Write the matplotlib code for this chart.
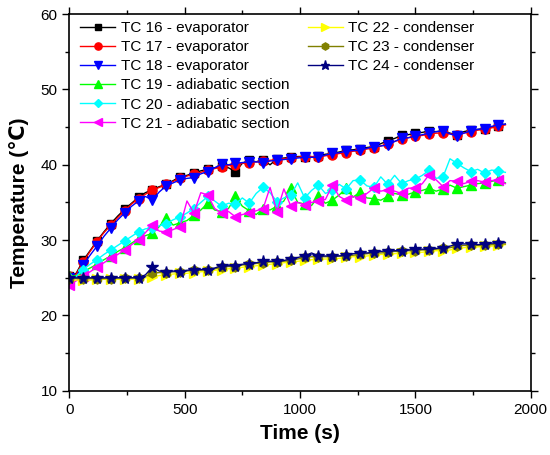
import matplotlib
matplotlib.use("Agg")
import matplotlib.pyplot as plt
from matplotlib.ticker import MultipleLocator

plt.rcParams['font.family'] = ['Liberation Sans', 'DejaVu Sans']

# time axis, one reading every 30 s
time_s = list(range(0, 1891, 30))

# evaporator
tc16 = [25.3, 25.6, 27.3, 28.6, 29.9, 31.1, 32.2, 33.2, 34.1, 34.9,
        35.7, 36.3, 36.7, 37.1, 37.4, 37.9, 38.4, 38.6, 38.9, 39.2,
        39.4, 39.6, 39.8, 39.6, 39.1, 40.2, 40.6, 40.4, 40.7, 40.0,
        40.8, 40.9, 41.0, 41.1, 41.1, 41.0, 41.2, 41.4, 41.5, 41.7,
        41.9, 42.0, 42.1, 42.3, 42.4, 42.8, 43.2, 43.5, 43.9, 44.0,
        44.2, 44.3, 44.5, 44.4, 44.5, 44.2, 44.0, 44.4, 44.6, 44.7,
        44.8, 45.0, 45.2, 45.4]
tc17 = [25.2, 25.5, 27.1, 28.5, 29.8, 31.0, 32.0, 33.0, 33.9, 34.8,
        35.5, 36.1, 36.6, 37.0, 37.4, 37.8, 38.2, 38.5, 38.8, 39.0,
        39.3, 39.5, 39.7, 39.9, 40.0, 40.2, 40.3, 40.4, 40.5, 40.6,
        40.7, 40.8, 40.9, 41.0, 41.1, 41.1, 41.0, 41.2, 41.3, 41.5,
        41.6, 41.8, 41.9, 42.1, 42.2, 42.5, 42.8, 43.1, 43.4, 43.6,
        43.8, 43.9, 44.1, 44.2, 44.2, 44.1, 44.0, 44.2, 44.4, 44.6,
        44.7, 44.9, 45.1, 45.3]
tc18 = [25.0, 25.2, 26.7, 28.0, 29.2, 30.5, 31.6, 32.7, 33.6, 34.5,
        35.2, 35.8, 35.3, 36.4, 37.2, 37.6, 38.0, 38.2, 38.3, 38.8,
        39.1, 39.6, 40.1, 40.0, 40.2, 40.3, 40.4, 40.4, 40.3, 40.5,
        40.6, 40.7, 40.8, 40.9, 41.0, 41.0, 41.0, 41.3, 41.5, 41.6,
        41.8, 41.9, 41.9, 42.2, 42.4, 42.5, 42.6, 43.1, 43.5, 43.6,
        43.8, 44.0, 44.2, 44.4, 44.5, 44.1, 43.8, 44.2, 44.5, 44.7,
        44.8, 45.1, 45.3, 45.4]

# adiabatic section
tc19 = [25.2, 25.3, 25.8, 26.3, 26.8, 27.4, 27.9, 28.5, 29.0, 29.6,
        30.2, 30.6, 30.9, 31.8, 33.0, 32.0, 32.3, 32.6, 33.3, 34.0,
        34.9, 34.0, 33.8, 34.2, 35.8, 34.5, 33.9, 33.4, 34.2, 34.0,
        34.5, 35.2, 36.9, 35.0, 34.8, 34.6, 35.8, 34.9, 35.3, 36.0,
        36.9, 35.7, 36.4, 35.6, 35.5, 35.3, 35.8, 36.2, 36.0, 36.1,
        36.4, 36.6, 36.9, 36.5, 36.8, 37.3, 36.9, 37.1, 37.3, 37.5,
        37.6, 37.8, 38.0, 37.6]
tc20 = [25.0, 25.2, 26.1, 26.8, 27.4, 28.1, 28.7, 29.3, 29.9, 30.5,
        31.1, 31.5, 31.6, 31.9, 32.2, 32.7, 33.1, 33.6, 34.2, 35.0,
        35.8, 35.2, 34.5, 34.9, 34.8, 35.6, 34.9, 36.2, 37.0, 36.3,
        35.1, 35.6, 36.0, 37.6, 35.6, 36.6, 37.3, 36.2, 36.6, 37.4,
        36.8, 37.9, 38.0, 37.2, 37.0, 38.4, 37.4, 38.6, 37.5, 37.9,
        38.1, 38.6, 39.3, 38.2, 38.4, 40.8, 40.2, 39.6, 39.1, 39.4,
        38.9, 39.3, 39.2, 39.0]
tc21 = [24.1, 24.6, 25.2, 25.8, 26.4, 27.0, 27.6, 28.1, 28.7, 29.4,
        30.0, 31.0, 32.0, 31.2, 31.1, 31.4, 31.8, 35.2, 33.6, 36.3,
        36.0, 34.2, 33.6, 33.8, 33.1, 33.4, 33.6, 33.9, 34.2, 37.0,
        33.8, 36.8, 34.5, 35.0, 34.7, 35.0, 35.2, 35.4, 37.3, 35.8,
        35.3, 35.8, 35.6, 36.2, 36.9, 36.5, 36.7, 36.5, 36.2, 36.9,
        36.9, 37.5, 38.7, 38.0, 37.1, 37.9, 37.8, 37.5, 37.8, 37.9,
        37.7, 37.9, 38.0, 37.5]

# condenser
tc22 = [24.7, 24.7, 24.7, 24.7, 24.8, 24.8, 24.8, 24.8, 24.8, 24.8,
        24.9, 25.0, 25.1, 25.3, 25.4, 25.5, 25.6, 25.6, 25.7, 25.8,
        25.9, 26.0, 26.1, 26.2, 26.3, 26.4, 26.5, 26.6, 26.7, 26.8,
        26.9, 27.0, 27.1, 27.2, 27.3, 27.4, 27.5, 27.5, 27.5, 27.6,
        27.7, 27.8, 27.8, 27.9, 28.0, 28.1, 28.2, 28.2, 28.3, 28.3,
        28.4, 28.4, 28.5, 28.6, 28.6, 28.7, 28.9, 29.0, 29.1, 29.1,
        29.2, 29.2, 29.3, 29.4]
tc23 = [24.9, 24.9, 24.9, 24.9, 24.9, 24.9, 24.9, 25.0, 25.0, 25.0,
        25.0, 25.2, 25.6, 25.7, 25.7, 25.8, 25.8, 25.9, 26.0, 26.0,
        26.1, 26.2, 26.4, 26.5, 26.5, 26.7, 26.8, 26.9, 27.0, 27.1,
        27.1, 27.2, 27.3, 27.5, 27.7, 27.8, 27.8, 27.8, 27.8, 27.9,
        27.9, 28.0, 28.1, 28.2, 28.3, 28.3, 28.4, 28.5, 28.5, 28.6,
        28.6, 28.7, 28.7, 28.8, 28.9, 29.0, 29.2, 29.3, 29.3, 29.3,
        29.3, 29.4, 29.5, 29.5]
tc24 = [25.0, 25.0, 25.0, 25.0, 25.0, 25.0, 25.0, 25.0, 25.0, 25.0,
        25.0, 25.4, 26.4, 25.9, 25.8, 25.9, 25.8, 26.0, 26.1, 26.1,
        26.1, 26.3, 26.6, 26.6, 26.6, 26.8, 26.9, 27.0, 27.2, 27.2,
        27.2, 27.3, 27.5, 27.7, 27.9, 28.3, 27.9, 27.9, 27.9, 27.9,
        28.0, 28.2, 28.3, 28.3, 28.4, 28.5, 28.6, 28.6, 28.6, 28.7,
        28.8, 28.8, 28.8, 28.9, 29.0, 29.2, 29.5, 29.5, 29.5, 29.4,
        29.5, 29.6, 29.6, 29.7]

series = [
    (tc16, "TC 16 - evaporator", "black", "s", 6),
    (tc17, "TC 17 - evaporator", "red", "o", 6.5),
    (tc18, "TC 18 - evaporator", "blue", "v", 7),
    (tc19, "TC 19 - adiabatic section", "#00ff00", "^", 7),
    (tc20, "TC 20 - adiabatic section", "#00ffff", "D", 5.5),
    (tc21, "TC 21 - adiabatic section", "#ff00ff", "<", 7),
    (tc22, "TC 22 - condenser", "#ffff00", ">", 7),
    (tc23, "TC 23 - condenser", "#808000", "h", 6.5),
    (tc24, "TC 24 - condenser", "#000080", "*", 8.5),
]

fig = plt.figure(figsize=(5.5, 4.55), dpi=100)
ax = fig.add_axes([0.126, 0.141, 0.839, 0.828])

lines = []
for vals, label, color, marker, ms in series:
    ln, = ax.plot(time_s, vals, color=color, lw=1.0, marker=marker, ms=ms,
                  markevery=2, mec=color, mfc=color, label=label)
    lines.append(ln)

ax.set_xlim(0, 2000)
ax.set_ylim(10, 60)
ax.xaxis.set_major_locator(MultipleLocator(500))
ax.xaxis.set_minor_locator(MultipleLocator(250))
ax.yaxis.set_major_locator(MultipleLocator(10))
ax.yaxis.set_minor_locator(MultipleLocator(5))
ax.tick_params(which='both', direction='out', top=True, right=True,
               labelsize=11)
ax.tick_params(which='major', length=5, width=1)
ax.tick_params(which='minor', length=3, width=1)
for sp in ax.spines.values():
    sp.set_linewidth(1.2)

ax.set_xlabel("Time (s)", fontsize=15, fontweight='bold', labelpad=5)
ax.set_ylabel("Temperature (\u2103)", fontsize=15, fontweight='bold', labelpad=8)

# two separate legends: six entries on the left, three on the right
leg_kw = dict(frameon=False, fontsize=11, handlelength=2.3, handletextpad=0.35,
              labelspacing=0.33, borderaxespad=0.0, markerscale=0.8)
leg1 = ax.legend(handles=lines[:6], loc='upper left',
                 bbox_to_anchor=(0.01, 0.997), **leg_kw)
ax.add_artist(leg1)
ax.legend(handles=lines[6:], loc='upper left',
          bbox_to_anchor=(0.503, 0.997), **leg_kw)

fig.savefig("out.png", dpi=100)
